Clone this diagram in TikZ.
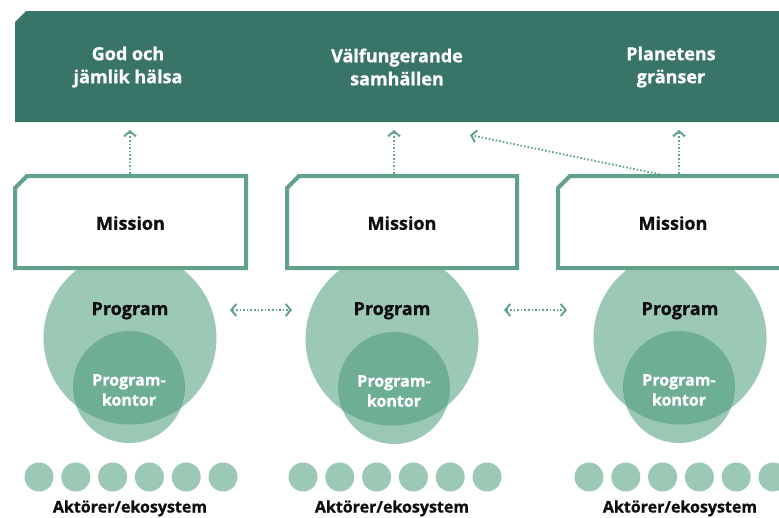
\documentclass[tikz,border=0pt]{standalone}
\usepackage{fontspec}
\setmainfont{Open Sans}[BoldFeatures={FakeBold=0.9}]
\usetikzlibrary{arrows.meta}
\definecolor{bannerc}{RGB}{56,116,103}
\definecolor{linec}{RGB}{96,161,135}
\definecolor{arrc}{RGB}{98,163,138}
\definecolor{lightc}{RGB}{156,200,182}
\definecolor{innerc}{RGB}{73,154,121}
\definecolor{txtc}{RGB}{15,15,15}
\tikzset{
  bigtxt/.style={font=\fontsize{18}{23}\selectfont\bfseries, align=center, inner sep=0pt},
  smalltxt/.style={font=\fontsize{16}{20}\selectfont\bfseries, align=center, inner sep=0pt},
  bannertxt/.style={bigtxt, text=white},
  darktxt/.style={text=txtc},
  missionbox/.style={draw=linec, line width=4pt, fill=white, line join=miter},
  bigcirc/.style={circle, fill=lightc, minimum size=173pt, inner sep=0pt},
  innercirc/.style={circle, fill=innerc, fill opacity=0.55, text opacity=1, minimum size=112pt, inner sep=0pt},
  innertxt/.style={smalltxt, text=white},
  dotc/.style={circle, fill=lightc, minimum size=29pt, inner sep=0pt},
  conn/.style={draw=arrc, line width=1.9pt, dash pattern=on 1.6pt off 2pt, -{Straight Barb[length=5pt,width=12pt,line width=2pt]}},
  bconn/.style={draw=arrc, line width=1.9pt, dash pattern=on 1.6pt off 2pt,
     {Straight Barb[length=5pt,width=12pt,line width=2pt]}-{Straight Barb[length=5pt,width=12pt,line width=2pt]}}
}
\begin{document}
\begin{tikzpicture}[x=1pt,y=-1pt]
\useasboundingbox (0,0) rectangle (779,517);
\clip (0,0) rectangle (779,517);
% banner
\fill[bannerc] (15,22) -- (26,11) -- (790,11) -- (790,122) -- (15,122) -- cycle;
\node[bannertxt] (g1) at (128,67) {God och\\jämlik hälsa};
\node[bannertxt] (g2) at (397,67) {Välfungerande\\samhällen};
\node[bannertxt] (g3) at (671,67) {Planetens\\gränser};
\coordinate (t1) at (130,130);
\coordinate (t2) at (394,130);
\coordinate (t3) at (679,130);
\coordinate (t4) at (470,135);
% actor dots
\foreach \g/\x in {a/39, b/303, c/589}{
  \foreach \k in {0,...,5}{
    \node[dotc] (d\g\k) at ({\x+36.8*\k},477) {};
  }
}
\node[smalltxt, darktxt, anchor=base] (ak1) at (130,512.5) {Aktörer/ekosystem};
\node[smalltxt, darktxt, anchor=base] (ak2) at (392,512.5) {Aktörer/ekosystem};
\node[smalltxt, darktxt, anchor=base] (ak3) at (680,512.5) {Aktörer/ekosystem};
% program circles
\node[bigcirc] (p1) at (130,338) {};
\node[bigcirc] (p2) at (392,339) {};
\node[bigcirc] (p3) at (680,338) {};
\node[innercirc] (k1) at (129,387) {};
\node[innercirc] (k2) at (394,388) {};
\node[innercirc] (k3) at (679,387) {};
\node[innertxt] (kt1) at (129,390) {Program-\\kontor};
\node[innertxt] (kt2) at (394,391) {Program-\\kontor};
\node[innertxt] (kt3) at (679,390) {Program-\\kontor};
\node[bigtxt, darktxt, anchor=base] (pt1) at (130,315) {Program};
\node[bigtxt, darktxt, anchor=base] (pt2) at (392,315) {Program};
\node[bigtxt, darktxt, anchor=base] (pt3) at (680,315) {Program};
% mission boxes
\draw[missionbox] (15,188) -- (27,176) -- (246,176) -- (246,268) -- (15,268) -- cycle;
\draw[missionbox] (287,188) -- (299,176) -- (517,176) -- (517,268) -- (287,268) -- cycle;
\draw[missionbox] (558,188) -- (570,176) -- (790,176) -- (790,268) -- (558,268) -- cycle;
\node[bigtxt, darktxt] (m1) at (130.5,223) {Mission};
\node[bigtxt, darktxt] (m2) at (402,223) {Mission};
\node[bigtxt, darktxt] (m3) at (673,223) {Mission};
\coordinate (b1) at (130,174);
\coordinate (b2) at (394,174);
\coordinate (b3) at (679,174);
\coordinate (b4) at (663,175);
% connectors
\draw[conn] (b1) -- (t1);
\draw[conn] (b2) -- (t2);
\draw[conn] (b3) -- (t3);
\draw[conn] (b4) -- (t4);
\coordinate (h1a) at (230,310);
\coordinate (h1b) at (292,310);
\coordinate (h2a) at (504,310);
\coordinate (h2b) at (567,310);
\draw[bconn] (h1a) -- (h1b);
\draw[bconn] (h2a) -- (h2b);
\end{tikzpicture}
\end{document}
